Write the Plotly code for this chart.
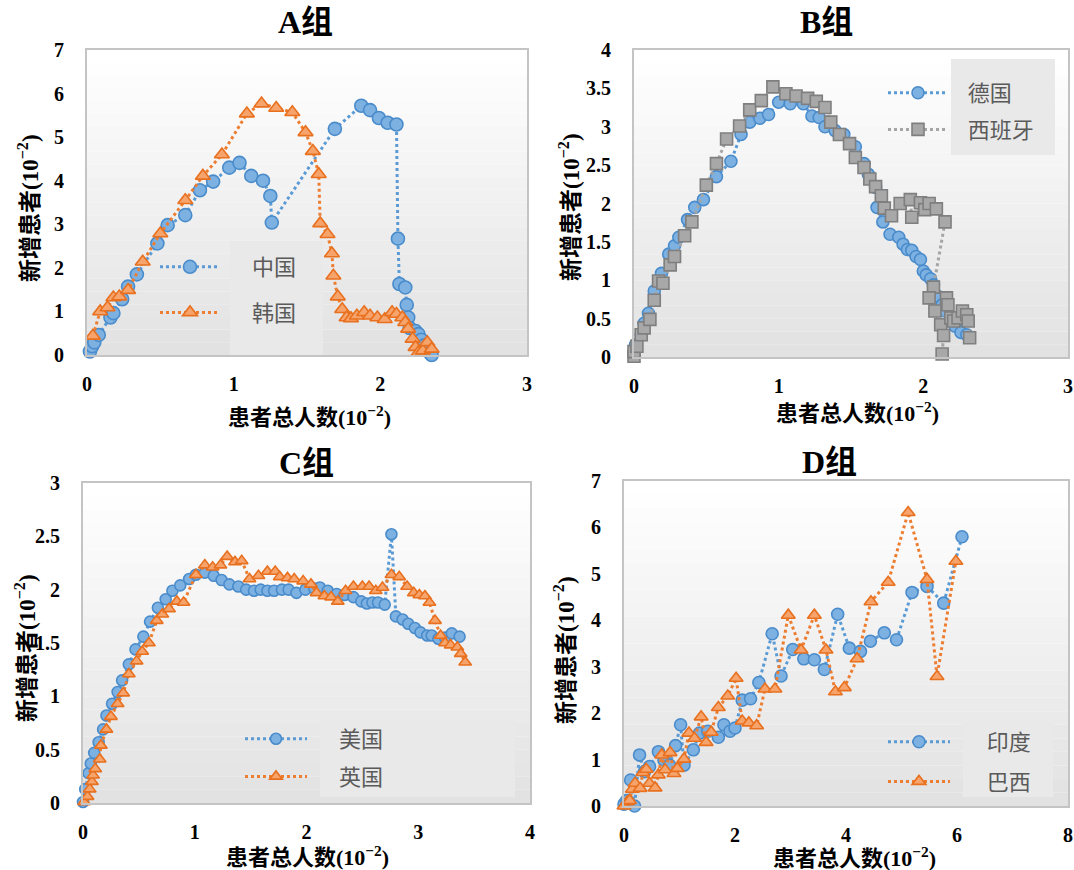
import plotly.graph_objects as go

# ---------------- data ----------------
a_china_x = [0.02,0.035,0.05,0.08,0.16,0.18,0.24,0.28,0.34,0.48,0.55,0.67,0.77,0.86,0.97,1.04,1.12,1.2,1.25,1.26,1.69,1.87,1.93,1.99,2.05,2.11,2.12,2.13,2.17,2.18,2.19,2.2,2.24,2.26,2.28,2.30,2.32,2.34,2.35]
a_china_y = [0.08,0.2,0.29,0.46,0.86,0.96,1.28,1.57,1.85,2.56,2.98,3.21,3.78,3.98,4.3,4.41,4.11,4.0,3.65,3.04,5.19,5.72,5.62,5.44,5.33,5.29,2.67,1.63,1.55,1.15,0.86,0.62,0.55,0.48,0.35,0.22,0.12,0.04,0.0]
a_korea_x = [0.04,0.09,0.14,0.18,0.22,0.28,0.38,0.5,0.67,0.79,0.92,1.09,1.19,1.29,1.4,1.49,1.54,1.58,1.59,1.64,1.67,1.68,1.71,1.74,1.77,1.8,1.84,1.89,1.93,1.98,2.03,2.08,2.11,2.15,2.17,2.19,2.22,2.24,2.26,2.29,2.32,2.35]
a_korea_y = [0.44,1.0,1.09,1.32,1.34,1.49,2.14,2.79,3.55,4.11,4.6,5.54,5.77,5.67,5.57,5.11,4.68,4.15,3.02,2.77,2.33,1.82,1.34,1.05,0.86,0.84,0.9,0.98,0.9,0.86,0.82,0.98,0.94,0.86,0.75,0.6,0.37,0.18,0.06,0.1,0.29,0.14]

b_germany_x = [0.0,0.01,0.05,0.07,0.1,0.14,0.19,0.24,0.28,0.31,0.37,0.42,0.48,0.57,0.67,0.74,0.8,0.87,0.93,1.0,1.08,1.17,1.23,1.28,1.32,1.39,1.45,1.53,1.59,1.62,1.67,1.68,1.72,1.77,1.83,1.86,1.89,1.92,1.95,1.98,2.0,2.02,2.05,2.07,2.1,2.13,2.15,2.19,2.22,2.26,2.3]
b_germany_y = [0.03,0.16,0.29,0.44,0.57,0.86,1.09,1.34,1.45,1.56,1.79,1.95,2.05,2.35,2.55,2.9,3.06,3.11,3.16,3.32,3.3,3.3,3.14,3.12,3.0,2.95,2.9,2.74,2.52,2.38,2.21,1.95,1.76,1.6,1.56,1.47,1.4,1.39,1.31,1.27,1.12,1.07,1.02,0.94,0.79,0.68,0.6,0.51,0.4,0.32,0.29]
b_spain_x = [0.0,0.0,0.02,0.05,0.07,0.11,0.14,0.17,0.2,0.25,0.28,0.35,0.4,0.5,0.57,0.64,0.73,0.8,0.88,0.96,1.05,1.12,1.2,1.26,1.32,1.36,1.42,1.49,1.53,1.59,1.63,1.67,1.71,1.73,1.78,1.84,1.91,1.92,1.98,2.01,2.04,2.09,2.15,2.07,2.04,2.08,2.12,2.14,2.13,2.16,2.17,2.19,2.21,2.24,2.27,2.3,2.31,2.32]
b_spain_y = [0.01,0.07,0.14,0.29,0.38,0.49,0.74,0.99,0.96,1.2,1.31,1.58,1.76,2.24,2.52,2.84,3.01,3.22,3.34,3.52,3.43,3.4,3.37,3.33,3.25,3.06,2.9,2.78,2.6,2.47,2.32,2.22,2.1,1.94,1.84,2.0,2.05,1.82,2.01,1.92,2.0,1.93,1.76,0.91,0.77,0.6,0.42,0.28,0.04,0.77,0.68,0.51,0.47,0.51,0.6,0.55,0.47,0.25]

c_usa_x = [0,0.02,0.05,0.07,0.1,0.14,0.18,0.21,0.26,0.31,0.35,0.41,0.47,0.54,0.6,0.67,0.74,0.8,0.87,0.95,1.01,1.09,1.17,1.24,1.31,1.39,1.46,1.53,1.59,1.65,1.71,1.78,1.84,1.91,1.99,2.07,2.12,2.19,2.27,2.34,2.42,2.49,2.54,2.59,2.64,2.7,2.76,2.8,2.86,2.91,2.97,3.02,3.08,3.12,3.18,3.24,3.3,3.37]
c_usa_y = [0.01,0.13,0.28,0.37,0.47,0.57,0.69,0.82,0.93,1.04,1.15,1.3,1.44,1.56,1.7,1.83,1.91,1.99,2.04,2.1,2.14,2.16,2.13,2.09,2.05,2.03,2.0,1.99,2.0,1.99,1.99,2.0,2.0,1.97,2.0,2.01,2.02,1.99,1.96,1.95,1.93,1.89,1.87,1.88,1.88,1.86,2.52,1.75,1.72,1.68,1.64,1.6,1.57,1.57,1.54,1.55,1.59,1.56]
c_uk_x = [0.01,0.04,0.06,0.08,0.09,0.11,0.15,0.16,0.21,0.25,0.31,0.36,0.41,0.48,0.53,0.59,0.66,0.71,0.77,0.84,0.9,1.01,1.09,1.16,1.23,1.29,1.36,1.42,1.49,1.57,1.65,1.72,1.76,1.83,1.89,1.97,2.04,2.09,2.16,2.22,2.28,2.35,2.42,2.5,2.56,2.62,2.68,2.76,2.83,2.9,2.96,3.01,3.06,3.1,3.15,3.2,3.24,3.29,3.35,3.38,3.42]
c_uk_y = [0.01,0.06,0.13,0.2,0.26,0.32,0.41,0.54,0.69,0.81,0.93,1.03,1.21,1.33,1.42,1.5,1.71,1.77,1.82,1.89,1.88,2.14,2.23,2.21,2.23,2.31,2.26,2.27,2.1,2.13,2.17,2.17,2.12,2.11,2.1,2.08,2.05,1.97,1.94,1.93,1.89,1.99,2.03,2.03,2.03,1.99,2.02,2.14,2.12,2.03,1.97,1.95,1.94,1.88,1.71,1.57,1.5,1.48,1.46,1.4,1.32]

d_india_x = [0,0.05,0.12,0.19,0.28,0.37,0.46,0.62,0.72,0.82,0.93,1.02,1.08,1.25,1.36,1.51,1.7,1.8,1.91,2.0,2.13,2.28,2.43,2.67,2.83,3.04,3.24,3.43,3.61,3.85,4.06,4.26,4.44,4.69,4.91,5.19,5.46,5.76,6.09]
d_india_y = [0.04,0.12,0.56,0.0,1.1,0.74,0.85,1.17,0.99,0.88,1.3,1.75,0.88,1.21,1.57,1.61,1.48,1.75,1.61,1.68,2.28,2.31,2.66,3.71,2.8,3.37,3.17,3.15,2.94,4.13,3.4,3.33,3.55,3.73,3.58,4.6,4.73,4.37,5.8]
d_brazil_x = [0,0.06,0.1,0.15,0.2,0.29,0.34,0.4,0.46,0.56,0.62,0.68,0.74,0.83,0.9,0.96,1.08,1.17,1.27,1.39,1.48,1.57,1.7,1.87,2.02,2.13,2.25,2.39,2.54,2.72,2.96,3.19,3.43,3.64,3.81,3.97,4.2,4.45,4.76,5.12,5.46,5.64,5.98]
d_brazil_y = [0,0.09,0.12,0.36,0.49,0.38,0.72,0.79,0.49,0.39,0.67,1.1,0.78,1.15,0.7,0.81,1.01,1.57,1.46,1.92,1.37,1.59,2.12,2.37,2.75,1.83,1.79,1.73,2.52,2.52,4.11,3.36,4.11,3.36,2.46,2.55,3.17,4.4,4.82,6.32,4.88,2.79,5.27]

panel_titles = ["A组", "B组", "C组", "D组"]
x_title = "患者总人数(10<sup>−2</sup>)"
y_title = "新增患者(10<sup>−2</sup>)"

# ---------------- layout geometry ----------------
W, H = 1074, 870
# plot areas in pixels: (left, right, top, bottom)
boxes = [(87, 527, 50, 355), (634, 1068, 50, 357), (83, 530, 483, 803), (624, 1068, 481, 806)]
xranges = [[0, 3], [0, 3], [0, 4], [0, 8]]
yranges = [[0, 7], [0, 4], [0, 3], [0, 7]]
xdticks = [1, 1, 1, 2]
ydticks = [1, 0.5, 0.5, 1]
title_pos = [(305, 22), (826, 22), (306, 463), (829, 462)]
xtitle_pos = [(310, 416), (857, 412), (307, 856), (854, 857)]
ytitle_pos = [(28, 208), (569, 207), (25, 648), (564, 650)]

BLUE, ORANGE, GRAY = "#5B9BD5", "#ED7D31", "#A5A5A5"
SERIF = "Liberation Serif, Noto Sans CJK SC, serif"
CJK = "Noto Sans CJK SC, sans-serif"

fig = go.Figure()

def add_series(x, y, name, kind, idx, size, legend):
    ax = "" if idx == 0 else str(idx + 1)
    if kind == "circle":
        line_c, fill, edge, sym = BLUE, "#7DB1E2", "#4A8CCB", "circle"
    elif kind == "triangle":
        line_c, fill, edge, sym = ORANGE, "#F6A46C", "#E8701F", "triangle-up"
    else:
        line_c, fill, edge, sym = GRAY, "#A8A8A8", "#7F7F7F", "square"
    fig.add_trace(go.Scatter(
        x=x, y=y, name=name, mode="lines+markers",
        xaxis="x" + ax, yaxis="y" + ax, legend=legend, legendgroup=name,
        line=dict(color=line_c, width=3, dash="dot"),
        marker=dict(symbol=sym, size=size, color=fill, line=dict(color=edge, width=1.6)),
        cliponaxis=False,
    ))

add_series(a_china_x, a_china_y, "\u3000\u00a0中国", "circle", 0, 13, "legend")
add_series(a_korea_x, a_korea_y, "\u3000\u00a0韩国", "triangle", 0, 13, "legend")
add_series(b_germany_x, b_germany_y, "\u00a0\u00a0\u00a0德国", "circle", 1, 12, "legend2")
add_series(b_spain_x, b_spain_y, "\u00a0\u00a0\u00a0西班牙", "square", 1, 12, "legend2")
add_series(c_usa_x, c_usa_y, "\u3000\u00a0美国", "circle", 2, 11, "legend3")
add_series(c_uk_x, c_uk_y, "\u3000\u00a0英国", "triangle", 2, 11, "legend3")
add_series(d_india_x, d_india_y, "\u3000\u00a0\u00a0印度", "circle", 3, 12, "legend4")
add_series(d_brazil_x, d_brazil_y, "\u3000\u00a0\u00a0巴西", "triangle", 3, 12, "legend4")

layout = dict(
    width=W, height=H, margin=dict(l=0, r=0, t=0, b=0, autoexpand=False),
    paper_bgcolor="white", plot_bgcolor="rgba(0,0,0,0)",
    font=dict(family=SERIF, color="black"),
)
shapes = []
annotations = []

# legend boxes in pixels (left, right, top, bottom)
leg_boxes = [(230, 323, 241, 355), (951, 1055, 59, 155), (320, 515, 721, 797), (963, 1053, 721, 797)]
leg_pos = [(155, 246, 60, 14), (883, 72, 60, 5), (240, 718, 62, 6), (883, 721, 62, 8)]

NB = 24
for i in range(4):
    ax = "" if i == 0 else str(i + 1)
    l, r, t, b = boxes[i]
    xd = [l / W, r / W]
    yd = [1 - b / H, 1 - t / H]
    common = dict(showgrid=False, zeroline=False, showline=True, mirror=True,
                  linecolor="#C4C4C4", linewidth=2, ticks="", automargin=False,
                  tickfont=dict(family=SERIF, size=20, color="black", weight="bold"))
    layout["xaxis" + ax] = dict(domain=xd, range=xranges[i], dtick=xdticks[i], tick0=0,
                                anchor="y" + ax, ticklabelstandoff=10, **common)
    layout["yaxis" + ax] = dict(domain=yd, range=yranges[i], dtick=ydticks[i], tick0=0,
                                anchor="x" + ax, ticklabelstandoff=17, **common)
    # gradient background of the plot area
    for k in range(NB):
        f = k / (NB - 1)
        g = int(round(255 - (255 - 226) * f))
        col = f"rgb({g},{g},{g})"
        shapes.append(dict(type="rect", xref=f"x{ax} domain", yref=f"y{ax} domain",
                           x0=0, x1=1, y0=1 - (k + 1) / NB, y1=1 - k / NB,
                           fillcolor=col, line=dict(width=0), layer="below"))
    # legend background box
    bl, br, bt, bb = leg_boxes[i]
    shapes.append(dict(type="rect", xref=f"x{ax} domain", yref=f"y{ax} domain",
                       x0=(bl - l) / (r - l), x1=(br - l) / (r - l),
                       y0=(b - bb) / (b - t), y1=(b - bt) / (b - t),
                       fillcolor="#E9E9E9", line=dict(width=0), layer="below"))
    # legend
    lx, ly, iw, gap = leg_pos[i]
    lname = "legend" if i == 0 else "legend" + str(i + 1)
    layout[lname] = dict(x=lx / W, y=1 - ly / H, xanchor="left", yanchor="top",
                         bgcolor="rgba(0,0,0,0)", borderwidth=0, itemwidth=iw,
                         traceorder="grouped", tracegroupgap=gap,
                         font=dict(family=CJK, size=22, color="#5A5A5A"))
    # panel title
    tx, ty = title_pos[i]
    annotations.append(dict(text=panel_titles[i], x=tx / W, y=1 - ty / H,
                            xref="paper", yref="paper", showarrow=False,
                            xanchor="center", yanchor="middle",
                            font=dict(family=SERIF, size=32, color="black", weight="bold")))
    # axis titles
    tx, ty = xtitle_pos[i]
    annotations.append(dict(text=x_title, x=tx / W, y=1 - ty / H,
                            xref="paper", yref="paper", showarrow=False,
                            xanchor="center", yanchor="middle",
                            font=dict(family=SERIF, size=22, color="black", weight="bold")))
    tx, ty = ytitle_pos[i]
    annotations.append(dict(text=y_title, x=tx / W, y=1 - ty / H,
                            xref="paper", yref="paper", showarrow=False,
                            xanchor="center", yanchor="middle", textangle=-90,
                            font=dict(family=SERIF, size=23, color="black", weight="bold")))

layout["shapes"] = shapes
layout["annotations"] = annotations
fig.update_layout(**layout)
fig.write_html("out.html", config={"displayModeBar": False},
               post_script="document.body.style.margin='0px';")
